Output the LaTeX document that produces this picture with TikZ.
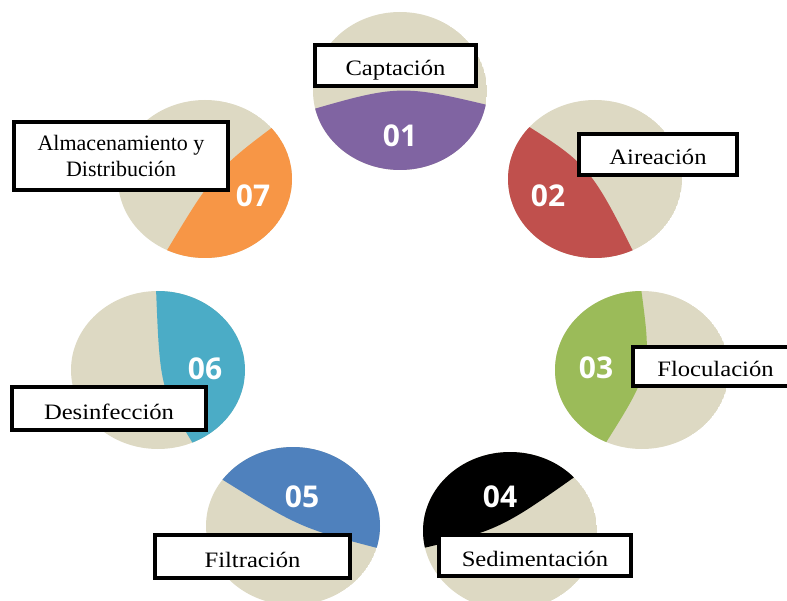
\documentclass[tikz,border=0pt]{standalone}
\usepackage{fontspec}
\setmainfont{Liberation Serif}
\newfontfamily\lblfam{Liberation Serif}[FakeStretch=1.12]
\newfontfamily\numfam{Open Sans}
\definecolor{cbeige}{HTML}{DDD9C3}
\definecolor{cpurple}{HTML}{8064A2}
\definecolor{cred}{HTML}{C0504D}
\definecolor{cgreen}{HTML}{9BBB59}
\definecolor{cblue}{HTML}{4F81BD}
\definecolor{cteal}{HTML}{4BACC6}
\definecolor{corange}{HTML}{F79646}
\tikzset{
  lbl/.style={draw=black, line width=3.5pt, fill=white, inner sep=0pt,
    align=center, font=\fontsize{22}{26}\selectfont},
  lblone/.style={lbl, font=\lblfam\fontsize{22}{26}\selectfont, text height=21pt, text depth=0pt},
  num/.style={text=white, inner sep=0pt, font=\numfam\bfseries\fontsize{30}{30}\selectfont},
  disc/.style={x radius=87pt, y radius=79pt}
}
\begin{document}
\begin{tikzpicture}[x=1pt,y=-1pt]
\useasboundingbox (0,0) rectangle (787,601);
% 01
\begin{scope}
\clip (400,91) ellipse [disc];
\fill[cbeige] (400,91) ellipse [disc];
\fill[cpurple] (300,113) .. controls (400,84) .. (500,108) -- (500,200) -- (300,200) -- cycle;
\end{scope}
% 02
\begin{scope}
\clip (595,179) ellipse [disc];
\fill[cbeige] (595,179) ellipse [disc];
\fill[cred] (515,118) .. controls (590,165) .. (640,265) -- (490,265) -- (490,118) -- cycle;
\end{scope}
% 03
\begin{scope}
\clip (642,370) ellipse [disc];
\fill[cbeige] (642,370) ellipse [disc];
\fill[cgreen] (641,288) .. controls (652,370) .. (600,452) -- (540,452) -- (540,288) -- cycle;
\end{scope}
% 04
\begin{scope}
\clip (510,531) ellipse [disc];
\fill[cbeige] (510,531) ellipse [disc];
\fill[black] (590,466) .. controls (500,530) .. (415,550) -- (415,440) -- (590,440) -- cycle;
\end{scope}
% 05
\begin{scope}
\clip (293,526) ellipse [disc];
\fill[cbeige] (293,526) ellipse [disc];
\fill[cblue] (215,475) .. controls (300,528) .. (385,550) -- (385,440) -- (215,440) -- cycle;
\end{scope}
% 06
\begin{scope}
\clip (158,370) ellipse [disc];
\fill[cbeige] (158,370) ellipse [disc];
\fill[cteal] (156,288) .. controls (160,390) .. (200,455) -- (250,455) -- (250,288) -- cycle;
\end{scope}
% 07
\begin{scope}
\clip (205,179) ellipse [disc];
\fill[cbeige] (205,179) ellipse [disc];
\fill[corange] (285,118) .. controls (215,170) .. (160,262) -- (300,262) -- (300,118) -- cycle;
\end{scope}
% numbers
\node[num] (n1) at (400,136) {01};
\node[num] (n2) at (548,196) {02};
\node[num] (n3) at (596,368) {03};
\node[num] (n4) at (500,497) {04};
\node[num] (n5) at (302,497) {05};
\node[num] (n6) at (205,369) {06};
\node[num] (n7) at (253,196) {07};
% labels
\node[lblone, minimum width=161pt, minimum height=41pt] (b1) at (395.5,65.5) {Captación};
\node[lblone, minimum width=158pt, minimum height=41pt] (b2) at (658,154.5) {Aireación};
\node[lbl, minimum width=214pt, minimum height=68pt] (b7) at (121,156) {Almacenamiento y\\Distribución};
\node[lblone, minimum width=165pt, minimum height=39pt] (b3) at (715.5,366.5) {Floculación};
\node[lblone, minimum width=192pt, minimum height=41pt] (b4) at (535,555.5) {Sedimentación};
\node[lblone, minimum width=195pt, minimum height=43pt] (b5) at (252.5,556.5) {Filtración};
\node[lblone, minimum width=194pt, minimum height=43pt] (b6) at (109,408.5) {Desinfección};
\end{tikzpicture}
\end{document}
